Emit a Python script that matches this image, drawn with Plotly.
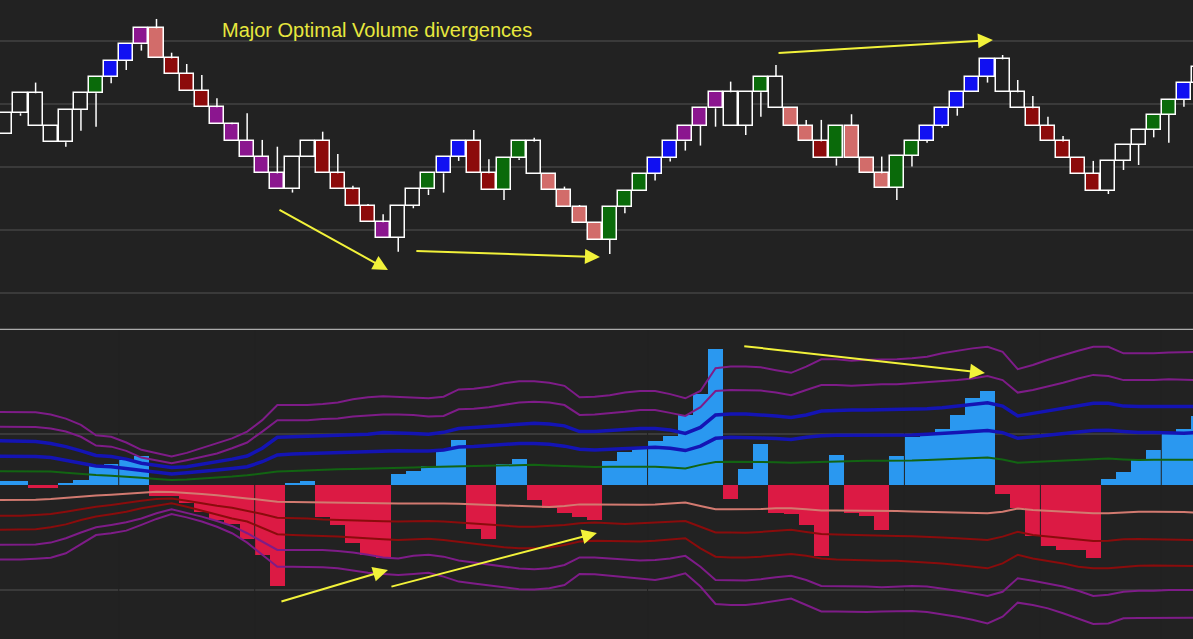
import plotly.graph_objects as go
from plotly.subplots import make_subplots

bars = list(range(80))
band_x = list(range(-1, 80))

# renko-style price bars (price in box units)
body_top = [14.74, 15.98, 15.98, 13.96, 14.94, 15.98, 16.97, 17.98, 19.0, 20.0,
            20.0, 18.14, 17.17, 16.12, 15.11, 14.06, 13.05, 12.06, 11.02, 12.06,
            13.05, 13.05, 11.02, 10.03, 9.02, 8.0, 9.02, 10.03, 11.02, 12.06,
            13.05, 13.05, 11.02, 11.95, 13.0, 13.0, 11.0, 10.0, 8.96, 7.93,
            8.92, 9.95, 10.98, 11.95, 13.0, 13.97, 15.05, 16.04, 16.04, 16.04,
            17.01, 17.01, 15.05, 13.97, 13.0, 13.97, 13.97, 11.95, 11.02, 12.12,
            13.05, 13.97, 15.05, 16.04, 17.01, 18.08, 18.08, 16.04, 15.05, 13.97,
            13.0, 11.95, 10.98, 11.81, 12.78, 13.71, 14.63, 15.56, 16.6, 17.61]
body_bot = [13.44, 14.74, 13.96, 12.94, 12.94, 14.94, 15.98, 16.97, 17.98, 19.0,
            18.14, 17.17, 16.12, 15.11, 14.06, 13.05, 12.06, 11.02, 10.03, 10.03,
            12.06, 11.02, 10.03, 9.02, 8.0, 7.02, 7.02, 9.02, 10.03, 11.02,
            12.06, 11.02, 10.0, 10.0, 11.95, 11.0, 10.0, 8.96, 7.93, 6.9,
            6.9, 8.92, 9.95, 10.98, 11.95, 13.0, 13.97, 15.05, 13.97, 13.97,
            16.04, 15.05, 13.97, 13.0, 11.95, 11.95, 11.95, 11.02, 10.1, 10.1,
            12.12, 13.05, 13.97, 15.05, 16.04, 17.01, 16.04, 15.05, 13.97, 13.0,
            11.95, 10.98, 9.95, 9.95, 11.81, 12.78, 13.71, 14.63, 15.56, 16.6]
high = [14.74, 15.98, 16.64, 13.96, 14.94, 15.98, 16.97, 17.98, 19.0, 20.0,
        20.58, 18.49, 17.79, 17.11, 15.67, 14.16, 14.74, 13.09, 12.67, 12.06,
        13.05, 13.6, 12.22, 10.26, 9.13, 8.49, 9.02, 10.03, 11.02, 12.06,
        13.05, 13.71, 11.89, 11.95, 13.0, 13.23, 11.0, 10.2, 9.06, 7.93,
        8.92, 9.95, 10.98, 11.95, 13.0, 13.97, 15.05, 16.04, 16.7, 16.04,
        17.01, 17.73, 15.05, 14.33, 14.33, 13.97, 14.68, 11.95, 12.06, 12.12,
        13.05, 13.97, 15.05, 16.04, 17.01, 18.08, 18.35, 16.8, 15.81, 14.53,
        13.33, 11.95, 11.79, 11.81, 12.78, 13.71, 14.63, 15.56, 16.6, 17.61]
low = [13.44, 14.59, 13.96, 12.94, 12.67, 13.66, 13.91, 16.6, 17.42, 18.62,
       18.14, 17.17, 16.12, 15.11, 14.06, 13.05, 12.06, 11.02, 10.03, 9.83,
       12.06, 11.02, 10.03, 9.02, 8.0, 7.02, 6.17, 8.86, 9.68, 9.83,
       11.79, 11.02, 10.0, 9.37, 11.85, 11.0, 10.0, 8.96, 7.93, 6.9,
       6.03, 8.55, 9.95, 10.57, 11.75, 12.43, 12.74, 13.91, 13.97, 13.4,
       14.53, 15.05, 13.97, 13.0, 11.95, 11.5, 11.95, 11.02, 10.1, 9.37,
       11.44, 12.92, 13.85, 14.59, 16.04, 16.64, 16.04, 15.05, 13.97, 13.0,
       11.95, 10.98, 9.95, 9.74, 11.23, 11.54, 13.25, 12.92, 15.15, 16.6]
bar_state = list("WWWWWWGBBPSRRRPPPPPWWRRRRPWWGBBRRGGWSSSSGGGBBPPPWWGWSSRGSSSGGBBBBBWWRRRRRWWWGGBW")

# optimal volume histogram
volume = [0.8, 0.9, -0.6, -0.6, 0.45, 1.1, 3.65, 4.2, 4.95, 5.7,
          -2.1, -2.1, -3.4, -5.2, -6.7, -7.4, -10.4, -13.3, -19.4, 0.45,
          0.9, -6.0, -7.6, -11.0, -13.3, -14.0, 2.1, 2.7, 3.65, 7.05,
          8.8, -8.3, -10.3, 4.2, 5.1, -2.9, -4.4, -5.4, -6.1, -6.7,
          4.7, 6.35, 7.05, 8.6, 9.4, 13.6, 17.6, 26.3, -2.55, 3.2,
          8.0, -5.4, -5.6, -7.6, -13.5, 5.9, -5.3, -5.8, -8.5, 5.7,
          9.3, 9.7, 10.9, 13.6, 16.8, 18.1, -1.7, -4.35, -9.8, -11.6,
          -12.4, -12.5, -14.0, 1.3, 2.55, 4.8, 6.85, 10.05, 10.9, 13.3]

# volume bands, top to bottom (first value is the bar just off the left edge)
band_up4 = [14.2, 14.2, 14.2, 14.1, 13.7, 12.9, 11.7, 9.7, 9.4, 8.3, 6.9, 6.2, 5.6, 6.3, 7.2, 8.1, 9.1, 10.4, 12.6, 15.5, 15.5,
            15.5, 15.7, 16.0, 16.6, 17.0, 17.2, 17.1, 17.0, 16.8, 17.1, 18.5, 18.65, 19.0, 19.7, 20.1, 20.1, 19.8, 19.2, 17.0, 17.1,
            17.4, 17.9, 18.2, 18.2, 17.6, 16.8, 18.2, 22.6, 22.9, 22.9, 22.75, 22.2, 21.7, 22.9, 24.3, 24.3, 24.0, 24.2, 24.2, 24.3,
            24.5, 24.8, 25.45, 25.95, 26.4, 26.7, 25.75, 22.4, 23.2, 24.2, 25.1, 25.95, 26.7, 26.7, 25.45, 25.45, 25.45, 25.6, 25.65, 25.75]
band_up3 = [11.35, 11.35, 11.35, 11.3, 11.0, 10.4, 9.4, 7.7, 7.5, 6.7, 5.4, 4.8, 4.3, 4.9, 5.6, 6.2, 7.2, 8.3, 10.4, 12.6, 12.6,
            12.6, 12.8, 12.9, 13.3, 13.5, 13.7, 13.7, 13.6, 13.3, 13.4, 14.7, 14.8, 15.1, 15.5, 16.0, 16.15, 16.0, 15.5, 13.6, 13.7,
            13.9, 14.2, 14.55, 14.55, 14.0, 13.4, 15.1, 18.2, 18.4, 18.4, 18.3, 17.9, 17.4, 18.4, 19.35, 19.35, 19.2, 19.35, 19.5, 19.5,
            19.7, 19.8, 20.0, 20.3, 20.6, 21.1, 20.3, 17.9, 18.4, 19.05, 19.8, 20.6, 21.3, 21.1, 20.3, 20.3, 20.3, 20.45, 20.3, 20.3]
band_up2 = [8.65, 8.65, 8.6, 8.5, 8.1, 7.5, 6.7, 5.8, 5.6, 5.1, 4.3, 3.85, 3.5, 3.65, 4.1, 4.6, 5.1, 5.7, 7.2, 9.3, 9.4,
            9.55, 9.55, 9.6, 9.75, 9.9, 10.2, 10.2, 10.05, 9.9, 10.25, 11.0, 11.2, 11.5, 11.65, 11.9, 12.0, 11.85, 11.5, 10.4, 10.4,
            10.6, 10.8, 11.0, 11.0, 10.7, 10.05, 11.2, 13.6, 13.8, 13.8, 13.65, 13.4, 13.1, 13.6, 14.35, 14.5, 14.55, 14.55, 14.6, 14.7,
            14.7, 14.8, 15.0, 15.3, 15.7, 15.95, 15.3, 13.4, 13.9, 14.35, 14.9, 15.4, 15.85, 15.85, 15.3, 15.2, 15.2, 15.3, 15.2, 15.2]
band_up1 = [5.7, 5.7, 5.7, 5.6, 5.4, 4.9, 4.3, 3.8, 3.65, 3.3, 2.9, 2.5, 2.25, 2.5, 2.7, 3.0, 3.3, 3.65, 4.6, 5.9, 6.1,
            6.2, 6.2, 6.35, 6.4, 6.5, 6.6, 6.7, 6.65, 6.65, 6.85, 7.45, 7.55, 7.75, 7.9, 8.1, 8.1, 7.95, 7.6, 7.0, 6.85,
            7.0, 7.2, 7.3, 7.4, 7.2, 6.75, 7.6, 9.1, 9.3, 9.3, 9.15, 9.05, 8.9, 9.3, 9.6, 9.7, 9.7, 9.7, 9.7, 9.75,
            9.75, 9.9, 10.0, 10.2, 10.4, 10.6, 10.2, 9.1, 9.4, 9.75, 10.05, 10.3, 10.6, 10.65, 10.4, 10.2, 10.2, 10.1, 10.1, 10.2]
band_up0 = [2.8, 2.8, 2.8, 2.75, 2.7, 2.5, 2.25, 2.05, 1.9, 1.75, 1.5, 1.3, 1.1, 1.2, 1.35, 1.55, 1.75, 2.0, 2.4, 2.7, 2.8,
            2.95, 3.0, 3.15, 3.2, 3.25, 3.4, 3.45, 3.5, 3.6, 3.65, 3.7, 3.8, 3.85, 3.9, 4.0, 4.0, 3.9, 3.8, 3.6, 3.6,
            3.65, 3.65, 3.65, 3.65, 3.5, 3.3, 4.0, 4.55, 4.6, 4.6, 4.55, 4.5, 4.4, 4.5, 4.6, 4.7, 4.75, 4.8, 4.8, 4.8,
            4.85, 4.95, 5.05, 5.2, 5.3, 5.4, 5.05, 4.4, 4.55, 4.7, 4.8, 4.95, 5.1, 5.2, 5.05, 4.95, 5.0, 5.05, 5.0, 4.95]
band_dn0 = [-2.75, -2.75, -2.75, -2.7, -2.55, -2.3, -2.1, -1.9, -1.75, -1.55, -1.35, -1.15, -1.2, -1.35, -1.6, -1.85, -2.1, -2.45, -2.75, -3.1, -3.15,
            -3.2, -3.25, -3.35, -3.4, -3.4, -3.45, -3.45, -3.45, -3.4, -3.45, -3.5, -3.6, -3.7, -3.8, -3.9, -4.05, -4.1, -3.9, -3.6, -3.6,
            -3.65, -3.7, -3.65, -3.6, -3.45, -3.25, -3.9, -4.55, -4.55, -4.55, -4.5, -4.35, -4.35, -4.55, -4.8, -4.8, -4.8, -4.8, -4.8, -4.85,
            -4.95, -5.0, -5.05, -5.1, -5.2, -5.3, -5.0, -4.4, -4.7, -4.85, -5.0, -5.2, -5.3, -5.3, -5.1, -5.0, -5.0, -5.0, -5.05, -5.2]
band_dn1 = [-5.8, -5.8, -5.8, -5.65, -5.45, -5.0, -4.5, -4.05, -3.7, -3.25, -2.9, -2.55, -2.45, -2.9, -3.4, -3.85, -4.25, -4.8, -5.45, -6.15, -6.2,
            -6.3, -6.5, -6.6, -6.75, -6.8, -6.85, -6.9, -6.85, -6.8, -6.9, -7.1, -7.35, -7.6, -7.75, -7.9, -7.9, -7.75, -7.55, -7.25, -7.1,
            -7.25, -7.35, -7.25, -7.1, -7.0, -6.8, -7.9, -9.0, -9.0, -9.05, -8.9, -8.65, -8.5, -8.9, -9.3, -9.4, -9.5, -9.55, -9.6, -9.7,
            -9.75, -9.8, -9.95, -10.1, -10.3, -10.45, -9.8, -8.85, -9.5, -9.8, -10.1, -10.45, -10.65, -10.6, -10.3, -10.25, -10.3, -10.3, -10.4, -10.45]
band_dn2 = [-8.5, -8.5, -8.5, -8.4, -8.0, -7.45, -6.6, -5.95, -5.5, -5.0, -4.35, -3.85, -3.4, -4.05, -4.8, -5.65, -6.3, -6.9, -8.2, -9.35, -9.5,
            -9.55, -9.7, -9.8, -10.0, -10.2, -10.3, -10.45, -10.3, -10.2, -10.45, -10.8, -11.2, -11.6, -11.85, -12.05, -12.05, -11.9, -11.4, -10.75, -10.6,
            -10.65, -10.75, -10.75, -10.6, -10.3, -10.1, -12.05, -13.65, -13.8, -13.8, -13.65, -13.35, -13.15, -13.5, -14.0, -14.2, -14.3, -14.3, -14.45, -14.45,
            -14.6, -14.8, -14.95, -15.25, -15.6, -15.9, -14.95, -13.3, -14.0, -14.45, -14.95, -15.6, -15.9, -15.9, -15.6, -15.4, -15.35, -15.35, -15.4, -15.45]
band_dn3 = [-11.4, -11.4, -11.4, -11.3, -10.95, -10.1, -9.0, -8.0, -7.55, -7.05, -6.3, -5.3, -4.55, -5.2, -5.95, -6.8, -7.75, -9.15, -10.75, -12.35, -12.35,
            -12.35, -12.35, -12.55, -12.85, -13.3, -13.8, -14.0, -13.5, -13.3, -13.65, -14.4, -14.8, -15.25, -15.6, -15.95, -16.1, -15.9, -15.25, -13.8, -13.8,
            -14.0, -14.3, -14.4, -14.3, -14.0, -13.5, -15.6, -18.15, -18.25, -18.25, -18.0, -17.6, -17.35, -18.15, -19.3, -19.3, -19.3, -19.4, -19.55, -19.4,
            -19.3, -19.4, -19.75, -20.2, -20.7, -21.2, -20.4, -17.8, -18.3, -18.8, -19.4, -20.2, -21.2, -21.0, -20.4, -20.2, -20.2, -20.05, -20.05, -20.05]
band_dn4 = [-14.2, -14.2, -14.2, -14.05, -13.85, -13.0, -11.2, -9.5, -9.15, -8.65, -7.55, -6.4, -5.45, -6.1, -6.9, -7.9, -9.15, -10.95, -13.3, -15.6, -15.6,
            -15.65, -15.7, -15.9, -16.35, -16.75, -17.0, -17.2, -17.0, -16.75, -17.5, -18.45, -18.8, -19.2, -19.55, -19.9, -19.95, -19.75, -19.1, -17.0, -17.05,
            -17.35, -17.6, -17.95, -18.15, -17.6, -16.85, -19.4, -22.75, -22.95, -22.95, -22.6, -22.2, -21.7, -22.95, -24.2, -24.2, -24.3, -24.3, -24.2, -24.15,
            -24.1, -24.3, -24.7, -25.2, -25.8, -26.5, -25.2, -22.5, -22.95, -23.6, -24.55, -25.5, -26.6, -26.5, -25.5, -25.45, -25.4, -25.4, -25.4, -25.4]

session_breaks = [7.5, 16.5, 42.5, 59.5, 68.5, 76.5]
price_grid = [3.64, 7.54, 11.43, 15.33, 19.23]
volume_grid = [-20, 10]

BG = "#222222"
fill = {"W": BG, "G": "#0a6a0a", "B": "#1010f2", "P": "#8b168f", "S": "#d26c6a", "R": "#8c0b0b"}

fig = make_subplots(rows=2, cols=1, vertical_spacing=0)

# price bars: body as based bar, wicks as line segments outside the body
fig.add_trace(go.Bar(x=bars, y=[t - b for t, b in zip(body_top, body_bot)], base=body_bot,
                     width=0.93, marker_color=[fill[s] for s in bar_state],
                     marker_line_color="white", marker_line_width=1.5), row=1, col=1)
wx, wy = [], []
for i in bars:
    if high[i] > body_top[i]:
        wx += [i, i, None]
        wy += [body_top[i], high[i], None]
    if low[i] < body_bot[i]:
        wx += [i, i, None]
        wy += [body_bot[i], low[i], None]
fig.add_trace(go.Scatter(x=wx, y=wy, mode="lines", line=dict(color="white", width=1.5)), row=1, col=1)

# volume histogram
fig.add_trace(go.Bar(x=bars, y=volume, width=1.0, marker_line_width=0,
                     marker_color=["#2a98f0" if v > 0 else "#dc1a44" for v in volume]), row=2, col=1)
sx, sy = [], []
for b in session_breaks:
    sx += [b, b, None]
    sy += [-35, 35, None]
fig.add_trace(go.Scatter(x=sx, y=sy, mode="lines", line=dict(color=BG, width=1)), row=2, col=1)

bands = [(band_up4, "#7e1c88", 2), (band_up3, "#7e1c88", 2), (band_up2, "#1414b4", 3.5),
         (band_up1, "#1414b4", 3.5), (band_up0, "#126412", 2), (band_dn0, "#d27a70", 2),
         (band_dn1, "#8a0c0c", 2), (band_dn2, "#8a0c0c", 2), (band_dn3, "#7e1c88", 2),
         (band_dn4, "#7e1c88", 2)]
for vals, col, w in bands:
    fig.add_trace(go.Scatter(x=band_x, y=vals, mode="lines", line=dict(color=col, width=w)), row=2, col=1)

split = 1 - 329.3 / 639
fig.update_layout(width=1193, height=639, margin=dict(l=0, r=0, t=0, b=0),
                  paper_bgcolor=BG, plot_bgcolor=BG, showlegend=False, bargap=0,
                  hovermode=False)
fig.update_xaxes(range=[-0.357, 78.6], showgrid=False, zeroline=False,
                 showticklabels=False, showline=False)
fig.update_yaxes(range=[1.364, 21.754], domain=[split, 1], tickvals=price_grid,
                 row=1, col=1)
fig.update_yaxes(range=[-29.49, 30.07], domain=[0, split], tickvals=volume_grid,
                 row=2, col=1)
fig.update_yaxes(showgrid=True, gridcolor="#3a3a3a", gridwidth=2, zeroline=False,
                 showticklabels=False, showline=False)

fig.add_shape(type="line", xref="paper", yref="paper", x0=0, x1=1, y0=split, y1=split,
              line=dict(color="#d0d0d0", width=1))

fig.add_annotation(x=14.2, y=19.9, xref="x", yref="y", text="Major Optimal Volume divergences",
                   showarrow=False, xanchor="left", yanchor="middle",
                   font=dict(family="Liberation Sans, Arial", size=20, color="#e8e83e"))

# divergence arrows: (tail x, tail y, head x, head y, panel)
arrows = [(18.04, 8.81, 25.32, 5.04, ""), (27.1, 6.21, 39.35, 5.84, ""),
          (51.07, 18.47, 65.36, 19.28, ""), (48.8, 26.86, 64.83, 21.67, "2"),
          (18.17, -22.37, 25.32, -16.2, "2"), (25.45, -19.49, 39.15, -9.1, "2")]
for tx, ty, hx, hy, p in arrows:
    fig.add_annotation(x=hx, y=hy, ax=tx, ay=ty, xref="x" + p, yref="y" + p,
                       axref="x" + p, ayref="y" + p, text="", showarrow=True,
                       arrowhead=2, arrowsize=1.5, arrowwidth=2, arrowcolor="#f2f23a",
                       standoff=0)

fig.write_html("out.html", config={"displayModeBar": False},
               post_script="document.body.style.margin='0';")
